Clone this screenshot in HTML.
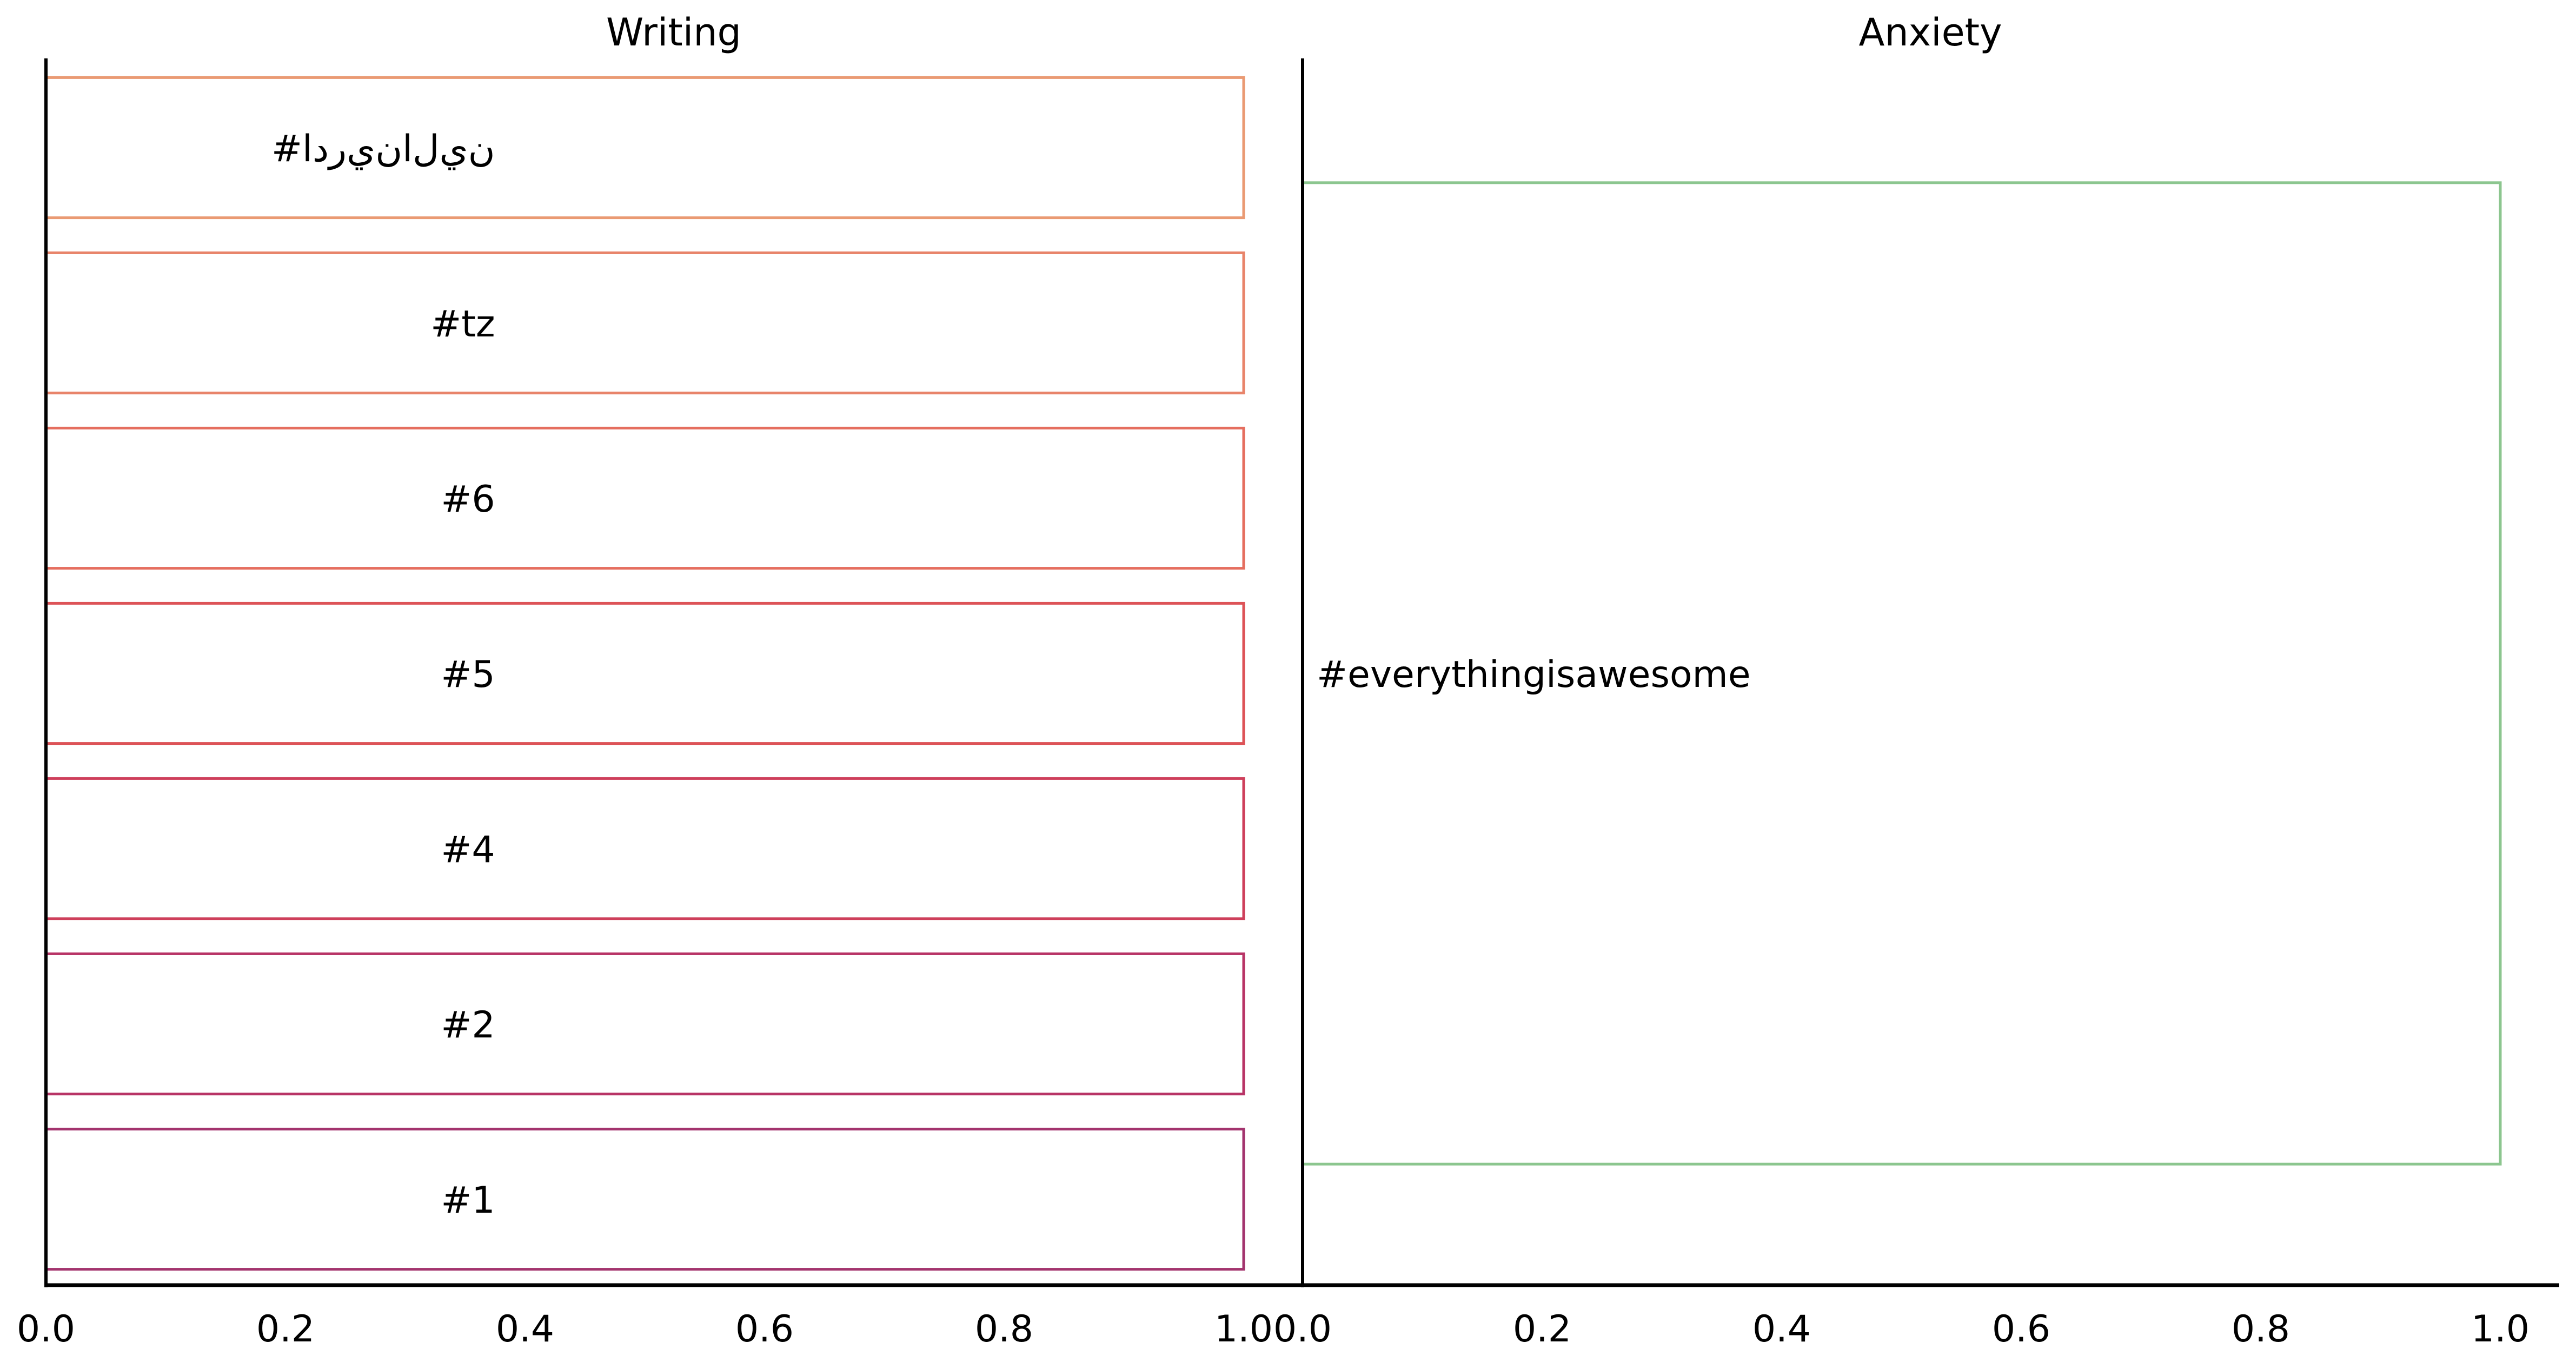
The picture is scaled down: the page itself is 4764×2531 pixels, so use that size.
<!DOCTYPE html>
<html><head><meta charset="utf-8"><style>
html,body{margin:0;padding:0;background:#fff;}
svg text{font-family:"DejaVu Sans","Liberation Sans","Noto Sans CJK SC",sans-serif;fill:#000;}
.ltr{unicode-bidi:bidi-override;direction:ltr;}
</style></head><body>
<svg id="chart" width="4764" height="2526" xmlns="http://www.w3.org/2000/svg">
<rect width="4764" height="2526" fill="#fff"/>
<g id="g"></g>
</svg>
<script>
const writingLabels = ["#\u0627\u200c\u062f\u200c\u0631\u200c\u064a\u200c\u0646\u200c\u0627\u200c\u0644\u200c\u064a\u200c\u0646", "#tz", "#6", "#5", "#4", "#2", "#1"];
const writingValues = [1, 1, 1, 1, 1, 1, 1];
const writingColors = ["#ea9a73", "#e8846a", "#e56e5f", "#dd5357", "#ce3f5b", "#b83466", "#a3346e"];
const anxietyLabels = ["#everythingisawesome"];
const anxietyValues = [1];
const tickLabels = ["0.0", "0.2", "0.4", "0.6", "0.8", "1.0"];
const tickValues = [0, 0.2, 0.4, 0.6, 0.8, 1.0];
const labelPos = 0.375;

const NS = "http://www.w3.org/2000/svg";
const gEl = document.getElementById("g");
const yTop = 108, yBottom = 2376;
function mk(tag, attrs){const e=document.createElementNS(NS,tag);for(const k in attrs)e.setAttribute(k,attrs[k]);gEl.appendChild(e);return e;}

const panels = [
  {title:"Writing", titleX:1246, x0:85, x1:2300, labels:writingLabels, values:writingValues, colors:writingColors, anchor:"end", name:"writing"},
  {title:"Anxiety", titleX:3570, x0:2409, x1:4624, labels:anxietyLabels, values:anxietyValues, colors:["#8cc68f"], anchor:"start", name:"anxiety"}
];

panels.forEach(p=>{
  const xs = v => p.x0 + v*(p.x1-p.x0);
  const n = p.labels.length;
  const band = (yBottom-yTop)/n;
  const ys = i => yTop + band*i;
  p.labels.forEach((lab,i)=>{
    const r = mk("rect",{x:xs(0),y:ys(i)+band*0.1+3,width:xs(p.values[i])-xs(0),height:band*0.8,fill:"none",stroke:p.colors[i],"stroke-width":5});
    
    
    const tx = p.anchor==="end" ? xs(labelPos) : xs(0)+26;
    const t = mk("text",{x:tx,y:ys(i)+band/2+28,"font-size":68,"text-anchor":p.anchor,"class":"ltr"});
    t.textContent = lab;
    
    
  });
  const title = mk("text",{x:p.titleX,y:84,"font-size":70,"text-anchor":"middle"});
  title.textContent = p.title;
  
  
  const spine = mk("line",{x1:p.x0,y1:yTop,x2:p.x0,y2:yBottom+4,stroke:"#000","stroke-width":6});
  
  
  tickValues.forEach((v,i)=>{
    const t = mk("text",{x:xs(v),y:2480,"font-size":68,"text-anchor":"middle"});
    t.textContent = tickLabels[i];
    
    
  });
});
const xaxis = mk("line",{x1:82,y1:2376,x2:4733,y2:2376,stroke:"#000","stroke-width":7});


</script>
</body></html>
